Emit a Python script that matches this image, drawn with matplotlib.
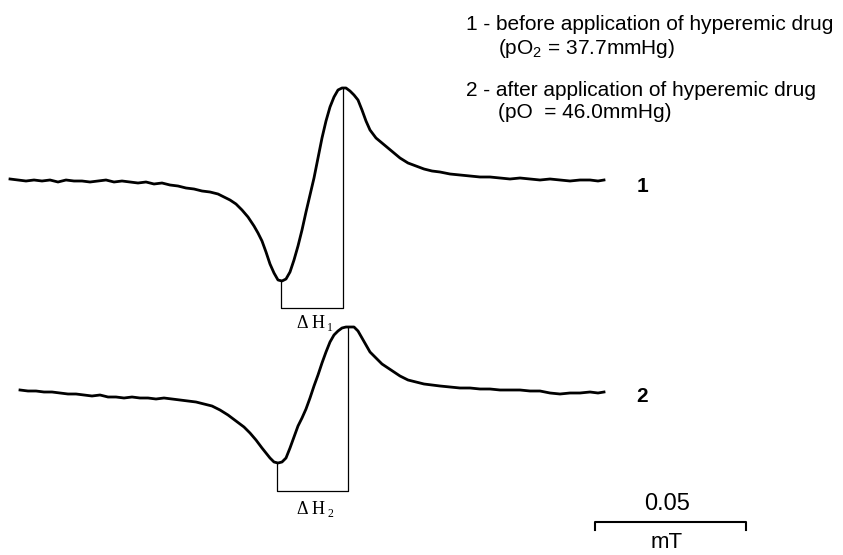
import matplotlib
matplotlib.use("Agg")
import matplotlib.pyplot as plt

plt.rcParams['mathtext.fontset'] = 'custom'
plt.rcParams['mathtext.rm'] = 'Liberation Sans'
plt.rcParams['mathtext.it'] = 'Liberation Sans'

# spectra (x = field position, y = signal, both in image pixels)
x1 = [10, 18, 26, 34, 42, 50, 58, 66, 74, 82,
      90, 98, 106, 114, 122, 130, 138, 146, 154, 162,
      170, 178, 186, 194, 202, 210, 218, 224, 230, 236,
      242, 248, 254, 258, 262, 266, 270, 274, 278, 282,
      286, 290, 294, 298, 302, 306, 310, 314, 318, 322,
      326, 330, 334, 338, 342, 346, 350, 354, 358, 362,
      366, 370, 376, 382, 388, 394, 400, 408, 416, 424,
      432, 440, 450, 460, 470, 480, 490, 500, 510, 520,
      530, 540, 550, 560, 570, 580, 590, 598, 604]
y1 = [179, 180, 181, 180, 181, 180, 182, 180, 181, 181,
      182, 181, 180, 182, 181, 182, 183, 182, 184, 183,
      185, 186, 188, 189, 191, 192, 194, 197, 200, 204,
      210, 217, 226, 233, 241, 252, 264, 273, 280, 281,
      279, 272, 260, 246, 230, 212, 195, 178, 158, 138,
      121, 107, 97, 90, 88, 88, 91, 95, 100, 110,
      121, 130, 138, 143, 148, 153, 158, 163, 166, 169,
      171, 172, 174, 175, 176, 177, 177, 178, 179, 178,
      179, 180, 179, 180, 181, 180, 180, 181, 180]

x2 = [20, 28, 36, 44, 52, 60, 68, 76, 84, 92,
      100, 108, 116, 124, 132, 140, 148, 156, 164, 172,
      180, 188, 196, 204, 212, 220, 228, 236, 244, 250,
      256, 262, 266, 270, 274, 278, 282, 286, 290, 294,
      298, 302, 306, 310, 314, 318, 322, 326, 330, 334,
      338, 342, 346, 350, 354, 358, 362, 366, 370, 376,
      382, 388, 394, 400, 408, 416, 424, 432, 440, 450,
      460, 470, 480, 490, 500, 510, 520, 530, 540, 550,
      560, 570, 580, 590, 598, 604]
y2 = [390, 391, 391, 392, 392, 393, 394, 394, 395, 396,
      395, 397, 397, 398, 397, 398, 398, 399, 398, 399,
      400, 401, 402, 404, 406, 410, 415, 421, 427, 433,
      440, 448, 453, 458, 462, 463, 462, 458, 448, 437,
      426, 418, 409, 398, 386, 375, 363, 352, 342, 335,
      331, 328, 327, 327, 327, 331, 338, 345, 352, 358,
      364, 368, 372, 376, 380, 382, 384, 385, 386, 387,
      388, 388, 389, 389, 390, 390, 390, 391, 391, 393,
      394, 393, 393, 392, 393, 392]

# line-width brackets: (left x, right x, bottom y)
dh1 = (281, 343, 308)
dh2 = (277, 348, 491)

fig = plt.figure(figsize=(8.43, 5.55), dpi=100)
ax = fig.add_axes([0, 0, 1, 1])
ax.set_xlim(0, 843)
ax.set_ylim(555, 0)
ax.axis('off')

ax.plot(x1, y1, color='black', lw=2.0)
ax.plot(x2, y2, color='black', lw=2.0)

for (xa, xb, yb), xs, ys in [(dh1, x1, y1), (dh2, x2, y2)]:
    ya = ys[min(range(len(xs)), key=lambda i: abs(xs[i] - xa))]
    yt = min(ys)
    ax.plot([xa, xa, xb, xb], [ya, yb, yb, yt], color='black', lw=0.9)

serif = 'Liberation Serif'
ax.text(311, 323, 'Δ H', family=serif, fontsize=13, ha='center', va='center')
ax.text(330, 328, '1', family=serif, fontsize=8.5, ha='center', va='center')
ax.text(311, 509, 'Δ H', family=serif, fontsize=13, ha='center', va='center')
ax.text(330, 514, '2', family=serif, fontsize=8.5, ha='center', va='center')

sans = 'Liberation Sans'
ax.text(642, 186, '1', family=sans, fontsize=15, fontweight='bold', ha='center', va='center')
ax.text(642, 396, '2', family=sans, fontsize=15, fontweight='bold', ha='center', va='center')

ax.text(466, 24, '1 - before application of hyperemic drug', family=sans, fontsize=15, va='center')
ax.text(498, 48, '(pO$_2$ = 37.7mmHg)', family=sans, fontsize=15, va='center')
ax.text(466, 90, '2 - after application of hyperemic drug', family=sans, fontsize=15, va='center')
ax.text(498, 113, '(pO  = 46.0mmHg)', family=sans, fontsize=15, va='center')

# scale bar
ax.plot([595, 595, 746, 746], [530, 522, 522, 530], color='black', lw=1.5)
ax.text(667, 504, '0.05', family=sans, fontsize=17, ha='center', va='center')
ax.text(667, 542, 'mT', family=sans, fontsize=16, ha='center', va='center')

fig.savefig('out.png', dpi=100)
